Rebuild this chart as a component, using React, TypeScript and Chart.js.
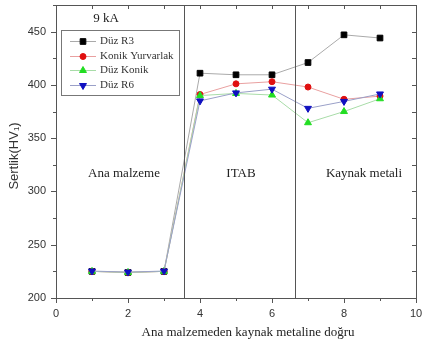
import React, { useEffect, useRef } from "react";
import Chart from "chart.js/auto";

const xPositions = [1, 2, 3, 4, 5, 6, 7, 8, 9];
const duzR3 = [225, 224, 225, 411, 409.5, 409.5, 421, 447, 444];
const konikYurvarlak = [225, 224, 225, 391, 401, 403, 398, 386.5, 389.5];
const duzKonik = [225, 224, 225, 390, 392, 390.5, 364.5, 375, 387];
const duzR6 = [225.3, 224.3, 225.3, 385, 392.5, 396, 378, 384.5, 391.5];
const seriesNames = ["Düz R3", "Konik Yurvarlak", "Düz Konik", "Düz R6"];
const zoneBounds = [3.55, 6.65];
const zoneLabels = ["Ana malzeme", "ITAB", "Kaynak metali"];
const xTitle = "Ana malzemeden kaynak metaline doğru";
const yTitle = "Sertlik(HV\u2081)";
const currentLabel = "9 kA";

const toPts = (ys: number[]) => xPositions.map((x, i) => ({ x, y: ys[i] }));

function drawMarker(ctx: CanvasRenderingContext2D, style: string, rot: number, r: number, x: number, y: number) {
  ctx.beginPath();
  if (style === "rect") {
    const s = r * Math.SQRT1_2;
    ctx.rect(x - s, y - s, 2 * s, 2 * s);
  } else if (style === "circle") {
    ctx.arc(x, y, r, 0, Math.PI * 2);
  } else {
    const dir = rot === 180 ? -1 : 1;
    const h = r * 1.5;
    const w = r * Math.sqrt(3) / 2;
    ctx.moveTo(x, y - dir * r);
    ctx.lineTo(x - w * 1.0, y + dir * (h - r));
    ctx.lineTo(x + w * 1.0, y + dir * (h - r));
    ctx.closePath();
  }
  ctx.fill();
  ctx.stroke();
}

export default function App() {
  const ref = useRef<HTMLCanvasElement | null>(null);
  useEffect(() => {
    if (!ref.current) return;
    const serif = '"Liberation Serif", "Times New Roman", serif';
    const sans = '"Liberation Sans", Arial, sans-serif';
    const frame = "#555";

    const decor = {
      id: "decor",
      afterDraw(chart: any) {
        const ctx = chart.ctx;
        const a = chart.chartArea;
        const xs = chart.scales.x;
        const ys = chart.scales.y;
        ctx.save();
        ctx.strokeStyle = frame;
        ctx.lineWidth = 1;
        ctx.strokeRect(Math.round(a.left) + 0.5, Math.round(a.top) + 0.5, Math.round(a.right - a.left), Math.round(a.bottom - a.top));
        ctx.beginPath();
        zoneBounds.forEach((v) => {
          const px = Math.round(xs.getPixelForValue(v)) + 0.5;
          ctx.moveTo(px, a.top);
          ctx.lineTo(px, a.bottom);
        });
        for (let v = 0; v <= 10; v++) {
          const px = Math.round(xs.getPixelForValue(v)) + 0.5;
          const len = v % 2 === 0 ? 5 : 3;
          ctx.moveTo(px, a.bottom);
          ctx.lineTo(px, a.bottom + len);
          if (v > 0 && v < 10) {
            ctx.moveTo(px, a.top);
            ctx.lineTo(px, a.top + 4);
          }
        }
        for (let v = 200; v <= 475; v += 25) {
          const py = Math.round(ys.getPixelForValue(v)) + 0.5;
          const len = v % 50 === 0 ? 5 : 3;
          ctx.moveTo(a.left, py);
          ctx.lineTo(a.left - len, py);
          if (v > 200) {
            ctx.moveTo(a.right, py);
            ctx.lineTo(a.right - 4, py);
          }
        }
        ctx.stroke();

        ctx.fillStyle = "#222";
        ctx.textAlign = "center";
        ctx.textBaseline = "middle";
        ctx.font = `13px ${serif}`;
        ctx.fillText(currentLabel, 106, 19);
        const lblY = 174;
        ctx.fillText(zoneLabels[0], 124, lblY);
        ctx.fillText(zoneLabels[1], 241, lblY);
        ctx.fillText(zoneLabels[2], 364, lblY);
        ctx.fillText(xTitle, 248, 333);

        ctx.save();
        ctx.translate(14, 156);
        ctx.rotate(-Math.PI / 2);
        ctx.font = `13px ${sans}`;
        ctx.fillStyle = "#333";
        ctx.fillText(yTitle, 0, 0);
        ctx.restore();

        ctx.strokeStyle = "#777";
        ctx.strokeRect(61.5, 30.5, 118, 65);
        const rows = [41, 56, 70, 85];
        chart.data.datasets.forEach((ds: any, i: number) => {
          const y = rows[i];
          ctx.beginPath();
          ctx.strokeStyle = ds.borderColor;
          ctx.lineWidth = 1;
          ctx.moveTo(70, y + 0.5);
          ctx.lineTo(96, y + 0.5);
          ctx.stroke();
          ctx.fillStyle = ds.pointBackgroundColor;
          ctx.strokeStyle = ds.pointBorderColor;
          drawMarker(ctx, ds.pointStyle, ds.pointRotation || 0, ds.pointRadius, 83, y + 0.5);
          ctx.fillStyle = "#333";
          ctx.textAlign = "left";
          ctx.font = `11px ${serif}`;
          ctx.fillText(seriesNames[i], 100, y + 0.5);
        });
        ctx.restore();
      },
    };

    const mk = (label: string, data: number[], color: string, line: string, style: string, radius: number, rot: number, order: number) => ({
      label,
      data: toPts(data),
      showLine: true,
      borderColor: line,
      borderWidth: 1,
      pointBackgroundColor: color,
      pointBorderColor: color,
      pointStyle: style,
      pointRadius: radius,
      pointRotation: rot,
      pointBorderWidth: 1,
      order,
    });

    const chart = new Chart(ref.current, {
      type: "scatter",
      data: {
        datasets: [
          mk(seriesNames[0], duzR3, "#000", "#aaa", "rect", 4, 0, 4),
          mk(seriesNames[1], konikYurvarlak, "#e01010", "#e9a0a0", "circle", 3, 0, 3),
          mk(seriesNames[2], duzKonik, "#22dd22", "#a8dca8", "triangle", 4, 0, 2),
          mk(seriesNames[3], duzR6, "#1010c0", "#9aa0c8", "triangle", 4, 180, 1),
        ] as any,
      },
      options: {
        animation: false,
        responsive: false,
        layout: { padding: { left: 0, top: 4, right: 6, bottom: 0 } },
        plugins: { legend: { display: false }, tooltip: { enabled: false } },
        scales: {
          x: {
            type: "linear",
            min: 0,
            max: 10,
            border: { display: false },
            grid: { drawOnChartArea: false, drawTicks: true, tickLength: 5, color: "rgba(0,0,0,0)" },
            ticks: { stepSize: 2, padding: 4, color: "#333", font: { size: 11, family: sans }, maxRotation: 0 },
            afterFit: (s: any) => {
              s.height = 46;
              s.paddingLeft = 0;
              s.paddingRight = 0;
            },
          },
          y: {
            type: "linear",
            min: 200,
            max: 475,
            border: { display: false },
            grid: { drawOnChartArea: false, drawTicks: true, tickLength: 5, color: "rgba(0,0,0,0)" },
            ticks: { stepSize: 50, includeBounds: false, padding: 5, color: "#333", font: { size: 11, family: sans } } as any,
            afterFit: (s: any) => {
              s.width = 56;
              s.paddingTop = 0;
              s.paddingBottom = 0;
            },
          },
        },
      },
      plugins: [decor],
    });
    return () => chart.destroy();
  }, []);

  return (
    <div style={{ position: "fixed", left: 0, top: 0, width: 422, height: 344, background: "#fff" }}>
      <canvas ref={ref} width={422} height={344} />
    </div>
  );
}
